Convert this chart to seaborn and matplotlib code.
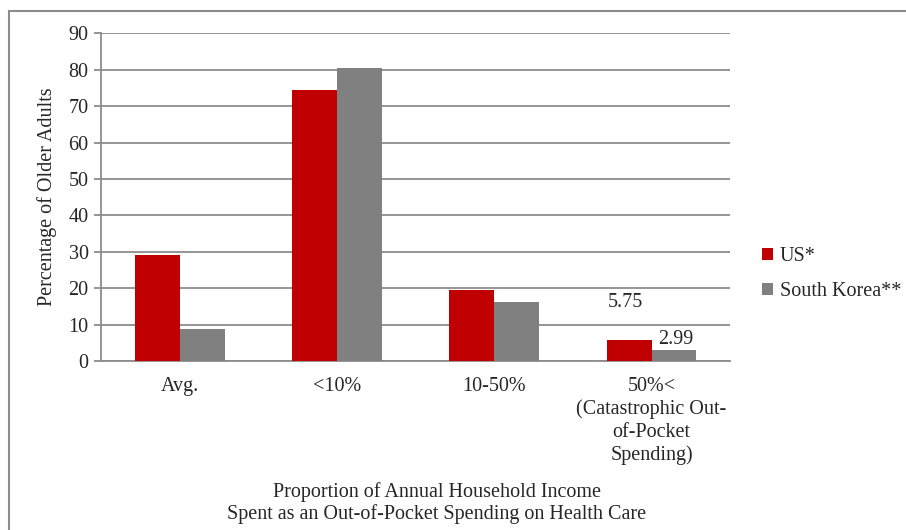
import pandas as pd
import matplotlib
matplotlib.use("Agg")
import matplotlib.pyplot as plt
import seaborn as sns
from matplotlib.patches import Rectangle

# Données
categories = ["Avg.", "<10%", "10-50%", "50%<\n(Catastrophic Out-\nof-Pocket\nSpending)"]
series = ["US*", "South Korea**"]
us_values = [29.2, 74.5, 19.6, 5.75]
korea_values = [8.7, 80.6, 16.3, 2.99]
colors = ["#C00000", "#808080"]

df = pd.DataFrame({
    "category": categories * 2,
    "group": [series[0]] * 4 + [series[1]] * 4,
    "value": us_values + korea_values,
})

sns.set_style("white")
plt.rcParams["font.family"] = ["Liberation Serif", "DejaVu Serif"]
FS = 14.5

fig = plt.figure(figsize=(9.06, 5.30), dpi=100)
ax = fig.add_axes([0.1115, 0.319, 0.6945, 0.618])

sns.barplot(data=df, x="category", y="value", hue="group", palette=colors,
            width=0.57, gap=0, saturation=1, ax=ax, zorder=3, edgecolor="none")

ax.set_ylim(0, 90)
ax.set_yticks(range(0, 91, 10))
ax.set_xlim(-0.5, 3.5)
ax.yaxis.grid(True, color="#8c8c8c", linewidth=1.3, zorder=0)
ax.set_axisbelow(True)
for s in ["top", "right"]:
    ax.spines[s].set_visible(False)
for s in ["left", "bottom"]:
    ax.spines[s].set_color("#8c8c8c")
    ax.spines[s].set_linewidth(1.3)
ax.tick_params(axis="y", left=True, length=5, color="#8c8c8c", width=1.3,
               labelsize=FS, pad=4)
ax.tick_params(axis="x", bottom=False, labelsize=FS, pad=8)
for lbl in ax.get_xticklabels():
    lbl.set_verticalalignment("top")
    lbl.set_linespacing(1.25)

ax.set_ylabel("Percentage of Older Adults", fontsize=FS, labelpad=8)
ax.set_xlabel("")
fig.text(437 / 906, 1 - 503 / 530,
         "Proportion of Annual Household Income\nSpent as an Out-of-Pocket Spending on Health Care",
         ha="center", va="center", fontsize=FS, linespacing=1.15)

# étiquettes de valeurs
ax.text(3 - 0.165, 16.0, f"{us_values[3]:.2f}", ha="center", va="center", fontsize=FS)
ax.text(3 + 0.155, 5.9, f"{korea_values[3]:.2f}", ha="center", va="center", fontsize=FS)

ax.legend(loc="center left", bbox_to_anchor=(1.037, 0.265), frameon=False,
          fontsize=FS, handlelength=0.55, handleheight=0.55, handletextpad=0.35,
          labelspacing=0.8, borderaxespad=0)

# cadre autour de la figure
fig.patches.append(Rectangle((9 / 906, -0.01), 1.0, 1 - 11 / 530 + 0.01,
                             transform=fig.transFigure, fill=False,
                             edgecolor="#8c8c8c", linewidth=1.5, clip_on=False))

plt.savefig("out.png", dpi=100)
